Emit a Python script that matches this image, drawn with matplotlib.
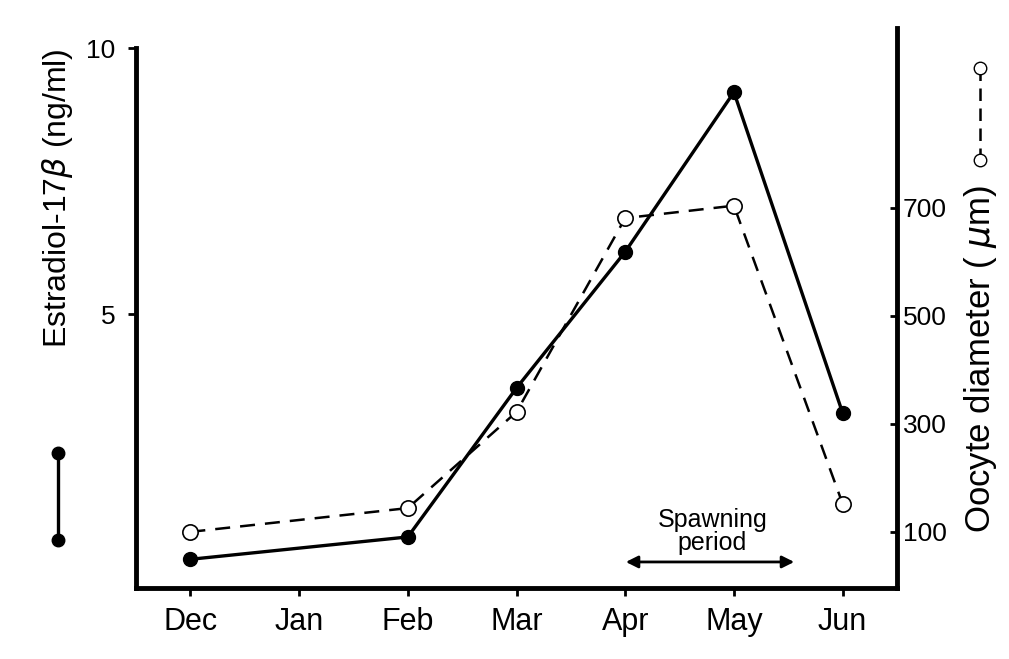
import matplotlib
matplotlib.use('Agg')
import matplotlib.pyplot as plt
from matplotlib.lines import Line2D

plt.rcParams['font.family'] = ['Liberation Sans', 'DejaVu Sans']
plt.rcParams['mathtext.fontset'] = 'dejavusans'

months = ['Dec', 'Jan', 'Feb', 'Mar', 'Apr', 'May', 'Jun']
e2_months = [0, 2, 3, 4, 5, 6]          # index into months
estradiol = [0.39, 0.81, 3.61, 6.17, 9.17, 3.14]
oocyte = [100, 144, 322, 681, 704, 152]
left_ticks = [5, 10]
right_ticks = [100, 300, 500, 700]

fig = plt.figure(figsize=(10.09, 6.59), dpi=100)
ax = fig.add_axes([0.1348, 0.1077, 0.7542, 0.8498])
ax2 = ax.twinx()

ax.plot(e2_months, estradiol, color='black', lw=2.4, marker='o', ms=10,
        mfc='black', mec='black', zorder=3)
ax2.plot(e2_months, oocyte, color='black', lw=1.8, ls=(0, (6, 4)), marker='o',
         ms=11, mfc='white', mec='black', mew=1.2, zorder=3)

ax.set_xlim(-0.5, 6.5)
ax.set_ylim(-0.15, 10.376)
ax2.set_ylim(-4, 1033)

ax.set_xticks(range(len(months)))
ax.set_xticklabels(months, fontsize=22)
ax.set_yticks(left_ticks)
ax.set_yticklabels([str(t) for t in left_ticks], fontsize=19)
ax2.set_yticks(right_ticks)
ax2.set_yticklabels([str(t) for t in right_ticks], fontsize=19)

for a in (ax, ax2):
    a.spines['top'].set_visible(False)
    for s in a.spines.values():
        s.set_linewidth(3.5)
ax.spines['left'].set_bounds(-0.15, 10)
ax2.spines['left'].set_visible(False)
ax.spines['right'].set_visible(False)
ax2.spines['bottom'].set_visible(False)

ax.tick_params(axis='x', direction='out', length=6, width=2, pad=8)
ax.tick_params(axis='y', direction='out', length=6, width=2, pad=9)
ax2.tick_params(axis='y', direction='in', length=5, width=2, pad=4)

# spawning period arrow
ax.annotate('', xy=(3.98, 0.34), xytext=(5.58, 0.34),
            arrowprops=dict(arrowstyle='<|-|>', color='black', lw=2,
                            mutation_scale=18))
ax.text(4.8, 0.92, 'Spawning\nperiod', ha='center', va='center',
        fontsize=18, linespacing=0.95)

# axis labels
fig.text(0.057, 0.70, r'Estradiol-17$\beta$ (ng/ml)', rotation=90,
         ha='center', va='center', fontsize=23)
fig.text(0.972, 0.455, r'Oocyte diameter ( $\mu$m)', rotation=90,
         ha='center', va='center', fontsize=25)

# legend glyphs
fig.add_artist(Line2D([0.057, 0.057], [1 - 453 / 659, 1 - 540 / 659],
                      transform=fig.transFigure, color='black', lw=2.4,
                      marker='o', ms=9, mfc='black'))
fig.add_artist(Line2D([0.971, 0.971], [1 - 68 / 659, 1 - 160 / 659],
                      transform=fig.transFigure, color='black', lw=1.8,
                      ls=(0, (5, 3)), marker='o', ms=9, mfc='white'))

fig.savefig('out.png', dpi=100, facecolor='white')
